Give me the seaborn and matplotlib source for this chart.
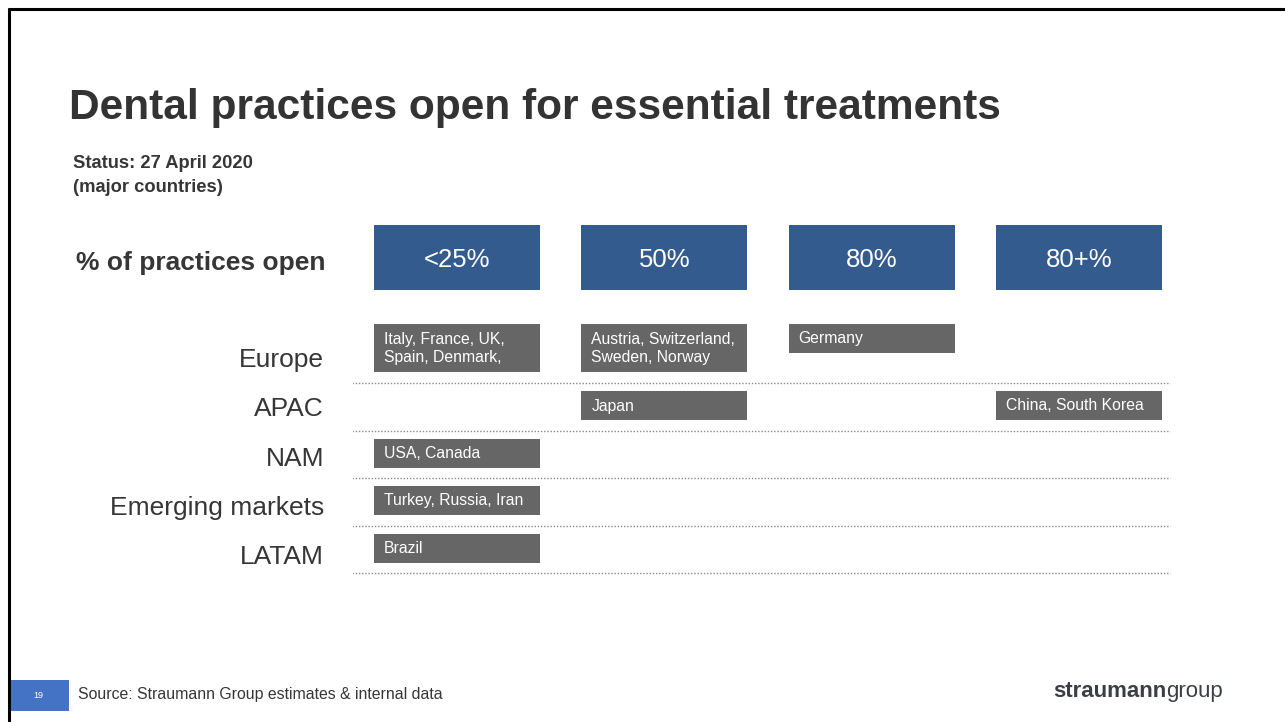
import numpy as np
import pandas as pd
import matplotlib
matplotlib.use("Agg")
import matplotlib.pyplot as plt
from matplotlib.lines import Line2D
from matplotlib.patches import Rectangle
import seaborn as sns

# ---------------- data ----------------
title = "Dental practices open for essential treatments"
subtitle_lines = ["Status: 27 April 2020", "(major countries)"]
header_label = "% of practices open"
columns = ["<25%", "50%", "80%", "80+%"]
regions = ["Europe", "APAC", "NAM", "Emerging markets", "LATAM"]
cell_region = ["Europe", "Europe", "Europe", "APAC", "APAC",
               "NAM", "Emerging markets", "LATAM"]
cell_column = ["<25%", "50%", "80%", "50%", "80+%", "<25%", "<25%", "<25%"]
cell_countries = ["Italy, France, UK,\nSpain, Denmark,",
                  "Austria, Switzerland,\nSweden, Norway",
                  "Germany", "Japan", "China, South Korea",
                  "USA, Canada", "Turkey, Russia, Iran", "Brazil"]
source = "Source: Straumann Group estimates & internal data"
page = "19"
logo_bold = "straumann"
logo_light = "group"

# ---------------- style ----------------
BLUE = "#335b8e"
GREY = "#666666"
TEXT = "#363636"
FOOT_BLUE = "#4472c4"
W, H = 1285, 722

sns.set_theme(style="white")
plt.rcParams['font.family'] = ['Liberation Sans', 'DejaVu Sans']

fig = plt.figure(figsize=(W / 100, H / 100), dpi=100)
fig.patch.set_facecolor("white")


def fx(px):
    return px / W


def fy(py):
    return 1 - py / H


# slide border (top and left)
fig.add_artist(Line2D([fx(9), 1], [fy(9), fy(9)], transform=fig.transFigure,
                      color="black", lw=2.2))
fig.add_artist(Line2D([fx(9), fx(9)], [fy(9), 0], transform=fig.transFigure,
                      color="black", lw=2.2))

# title / subtitle
fig.text(fx(69), fy(119.5), title, fontsize=30.6, fontweight="bold",
         color="#333333", va="baseline", ha="left")
fig.text(fx(73), fy(168.5), subtitle_lines[0], fontsize=13.2,
         fontweight="bold", color=TEXT, va="baseline")
fig.text(fx(73), fy(192), subtitle_lines[1], fontsize=13.2,
         fontweight="bold", color=TEXT, va="baseline")

# grid geometry
pitch = 207.3
grid_left = 353.4
grid_w = 4 * pitch

# ---------------- header row ----------------
hax = fig.add_axes([fx(grid_left), fy(290), grid_w / W, 65 / H])
hdf = pd.DataFrame({"column": columns, "height": [1] * len(columns)})
sns.barplot(data=hdf, x="column", y="height", color=BLUE, saturation=1,
            width=0.8, linewidth=0, ax=hax)
hax.set_xlim(-0.5, 3.5)
hax.set_ylim(0, 1)
for i, lab in enumerate(columns):
    hax.text(i, 0.5 - 3 / 65, lab, ha="center", va="center",
             color="white", fontsize=18.5)
hax.axis("off")

fig.text(fx(76), fy(269.5), header_label, fontsize=19, fontweight="bold",
         color=TEXT, va="baseline", ha="left")

# ---------------- body ----------------
row_px = 47.5
row0_px = 359.25
ax = fig.add_axes([fx(grid_left), fy(600), grid_w / W, 300 / H])
ax.set_xlim(-0.5, 3.5)
ax.set_ylim((600 - row0_px) / row_px, (300 - row0_px) / row_px)
ax.axis("off")

# dotted separators
ax.hlines([i + 0.5 for i in range(len(regions))],
          (352 - grid_left) / pitch - 0.5, (1170 - grid_left) / pitch - 0.5,
          colors="#8a8a8a", linestyles=(0, (1, 1.3)), linewidth=1.0)

# row labels
for i, reg in enumerate(regions):
    base_px = 367 + 49.25 * i
    ax.text((324 - grid_left) / pitch - 0.5, (base_px - row0_px) / row_px, reg,
            ha="right", va="baseline", fontsize=19, color=TEXT, clip_on=False)

# country boxes
nlines = [s.count("\n") + 1 for s in cell_countries]
row_max = {r: max([n for rr, n in zip(cell_region, nlines) if rr == r] or [1])
           for r in regions}
for reg, col, txt, n in zip(cell_region, cell_column, cell_countries, nlines):
    r = regions.index(reg)
    c = columns.index(col)
    L = row_max[reg]
    top = r - 0.5 + (8 - 19.5 * (L - 1)) / row_px
    h = (10 + 19 * n) / row_px
    ax.barh(top + h / 2, 0.8, left=c - 0.4, height=h, color=GREY, linewidth=0)
    ax.text(c - 0.4 + 10 / pitch, top + h / 2 + 0.5 / row_px, txt,
            ha="left", va="center", fontsize=11.3, color="white",
            linespacing=1.2)

# ---------------- footer ----------------
fig.add_artist(Rectangle((fx(11), fy(711)), 58 / W, 31 / H,
                         transform=fig.transFigure, color=FOOT_BLUE, lw=0))
fig.text(fx(38), fy(696), page, fontsize=6.5, color="white",
         ha="center", va="center")
fig.text(fx(78), fy(699), source, fontsize=11.4, color=TEXT,
         ha="left", va="baseline")

t1 = fig.text(fx(1053), fy(697), logo_bold, fontsize=16, fontweight="heavy",
              color="#3a3f45", ha="left", va="baseline")
hax.annotate(logo_light, xy=(1, 0), xycoords=t1, ha="left", va="bottom",
             fontsize=16, fontweight="light", color="#3a3f45",
             annotation_clip=False)

fig.savefig("out.png", dpi=100, facecolor="white")
